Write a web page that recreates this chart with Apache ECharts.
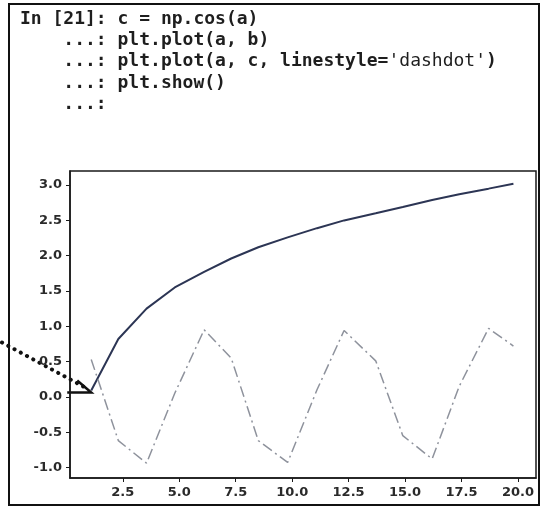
<!DOCTYPE html>
<html>
<head>
<meta charset="utf-8">
<script src="https://cdn.jsdelivr.net/npm/echarts@6/dist/echarts.min.js"></script>
<style>
html,body{margin:0;padding:0;background:#fff;}
#chart{width:543px;height:507px;}
</style>
</head>
<body>
<div id="chart"></div>
<script>
// ---- data ----
var aValues = [1.1, 2.3, 3.55, 4.8, 6.1, 7.3, 8.5, 9.8, 11.1, 12.3, 13.7, 14.9, 16.2, 17.4, 18.7, 19.8];
var bValues = [0.09, 0.82, 1.25, 1.55, 1.77, 1.96, 2.12, 2.26, 2.39, 2.5, 2.6, 2.69, 2.79, 2.87, 2.95, 3.02];
var cValues = [0.53, -0.62, -0.94, 0.05, 0.95, 0.55, -0.62, -0.93, 0.1, 0.94, 0.51, -0.55, -0.88, 0.15, 0.97, 0.72];
var xTicks = [2.5, 5.0, 7.5, 10.0, 12.5, 15.0, 17.5, 20.0];
var yTicks = [-1.0, -0.5, 0.0, 0.5, 1.0, 1.5, 2.0, 2.5, 3.0];
var codeLines = [
  "In [21]: c = np.cos(a)",
  "    ...: plt.plot(a, b)",
  "    ...: plt.plot(a, c, linestyle=",
  "    ...: plt.show()",
  "    ...:"
];
var codeString = "'dashdot'";

function pairs(xs, ys){ return xs.map(function(x,i){ return [x, ys[i]]; }); }

var chart = echarts.init(document.getElementById('chart'), null, {renderer:'canvas'});
var mono = "'DejaVu Sans Mono', 'Liberation Mono', monospace";
var codeGraphics = codeLines.map(function(line, i){
  var rich = i === 2;
  return {
    type:'text', left: 20, top: 10 + i*21.4,
    style:{
      text: rich ? line + '{s|' + codeString + '}{p|)}' : line,
      font: "bold 18px " + mono, fill:'#1e1e1e',
      rich: rich ? { s:{fontFamily: mono, fontSize:18, fontWeight:'normal', color:'#a0a0a0'}, p:{fontFamily: mono, fontSize:18, fontWeight:'bold', color:'#1e1e1e'} } : undefined
    }
  };
});

var labelStyle = {margin:8, fontSize:13, fontWeight:'bold', fontFamily:"'DejaVu Sans'", color:'#2a2a2a',
  formatter:function(v){ return v.toFixed(1); }};

var option = {
  animation:false,
  backgroundColor:'#ffffff',
  grid:{left:70, top:171, right:7, bottom:29, show:true, borderColor:'#1a1a1a', borderWidth:1.5, backgroundColor:'transparent'},
  xAxis:{
    type:'value', min:0.16, max:20.8,
    splitLine:{show:false},
    axisLine:{show:true, onZero:false, lineStyle:{color:'#1a1a1a', width:1.5}},
    axisTick:{show:true, length:4, customValues:xTicks, lineStyle:{color:'#1a1a1a'}},
    axisLabel:Object.assign({customValues:xTicks}, labelStyle)
  },
  yAxis:{
    type:'value', min:-1.15, max:3.2,
    splitLine:{show:false},
    axisLine:{show:true, onZero:false, lineStyle:{color:'#1a1a1a', width:1.5}},
    axisTick:{show:true, length:4, customValues:yTicks, lineStyle:{color:'#1a1a1a'}},
    axisLabel:Object.assign({customValues:yTicks}, labelStyle)
  },
  series:[
    {type:'line', name:'b', data:pairs(aValues,bValues), showSymbol:false, smooth:false,
     lineStyle:{color:'#2c3554', width:2}},
    {type:'line', name:'c', data:pairs(aValues,cValues), showSymbol:false, smooth:false,
     lineStyle:{color:'#8e929c', width:1.5, type:[11,4,2,4]}}
  ],
  graphic: [
    {type:'rect', shape:{x:9, y:4, width:530, height:501}, style:{fill:null, stroke:'#111', lineWidth:2}, silent:true}
  ].concat(codeGraphics)
};
chart.setOption(option);

// annotation arrow pointing at the first data point
var tip = chart.convertToPixel({gridIndex:0}, [aValues[0], bValues[0]]);
chart.setOption({
  graphic: option.graphic.concat([
    {type:'line', shape:{x1:2, y1:tip[1]-48, x2:tip[0]-8, y2:tip[1]-4},
     style:{stroke:'#111', lineWidth:4, lineDash:[0.1,7], lineCap:'round'}, silent:true},
    {type:'polyline', shape:{points:[[tip[0]-14, tip[1]-10],[tip[0], tip[1]+2],[tip[0]-24, tip[1]+2]]},
     style:{stroke:'#111', lineWidth:2.5, fill:null}, silent:true}
  ])
});
</script>
</body>
</html>
